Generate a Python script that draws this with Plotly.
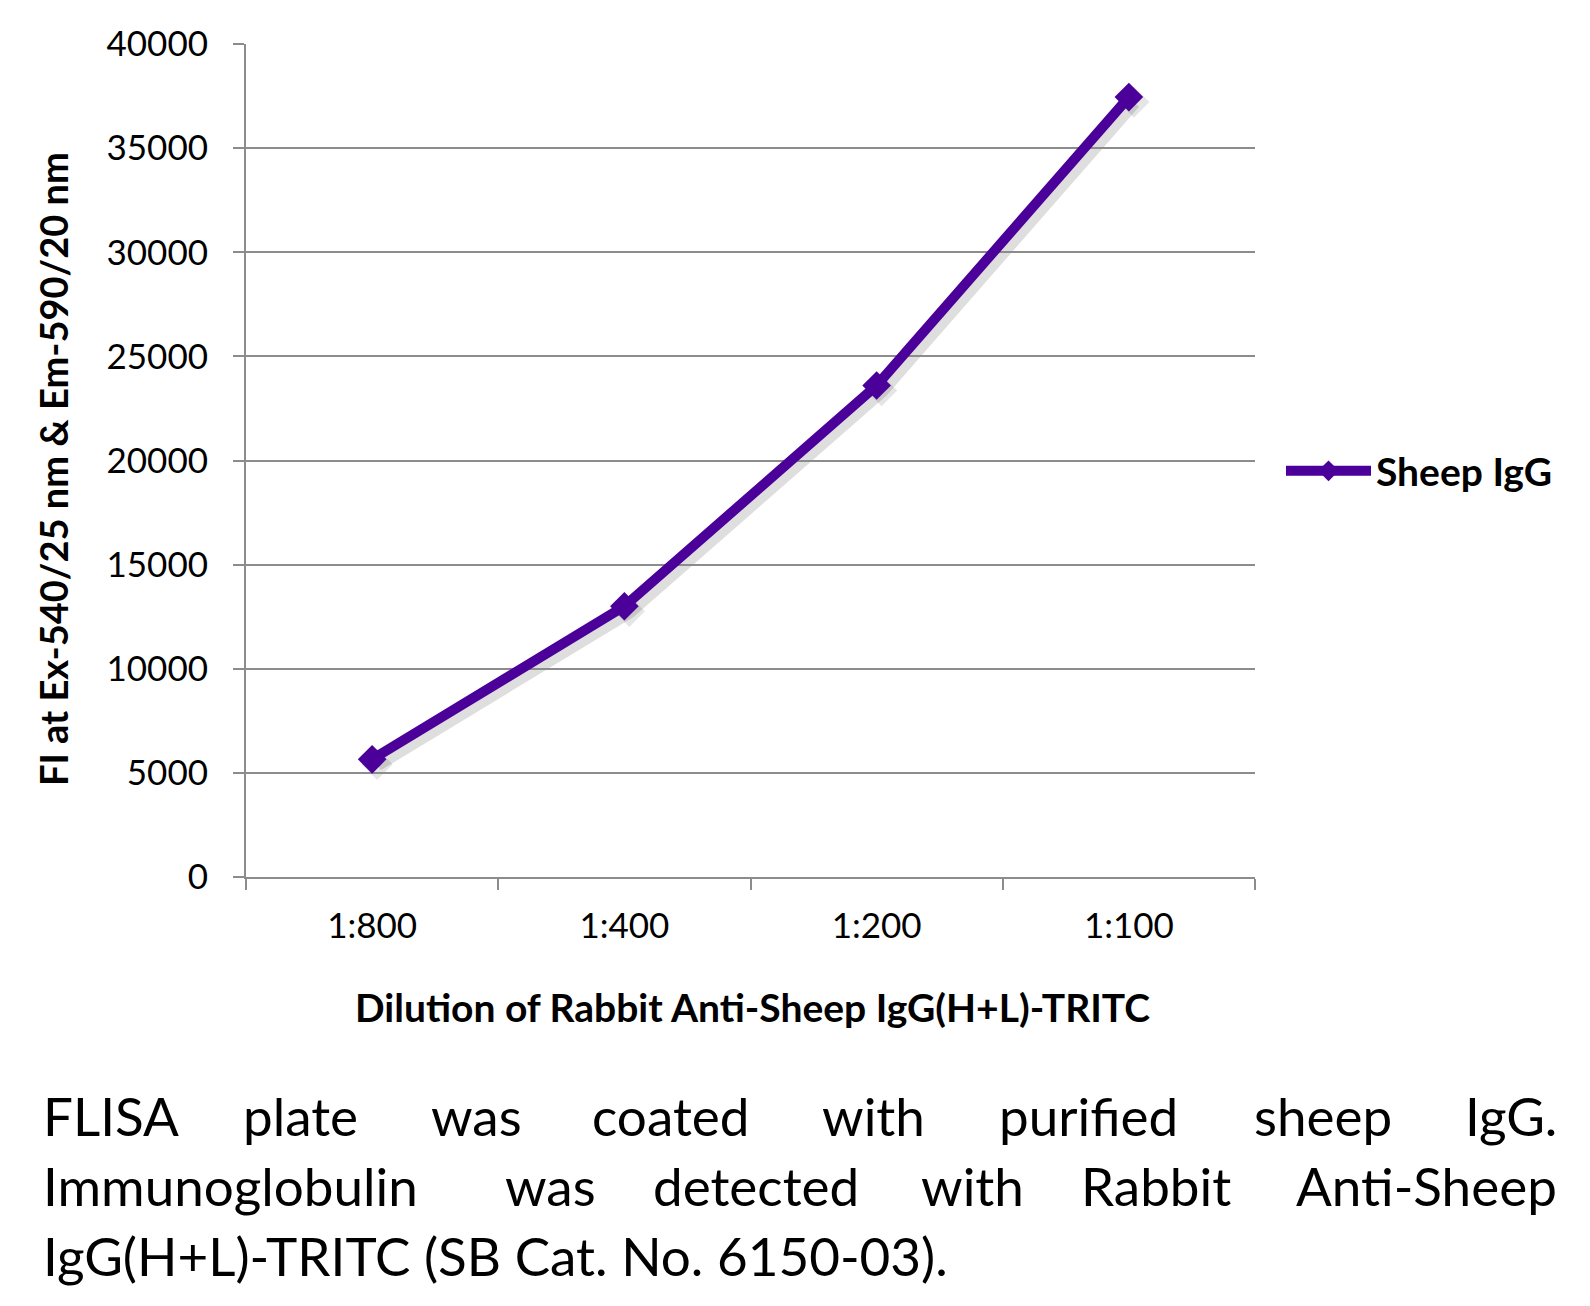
import plotly.graph_objects as go

# ---- data ----
categories = ["1:800", "1:400", "1:200", "1:100"]
sheep_igg = [5650, 13000, 23600, 37450]
series_name = "Sheep IgG"
y_ticks = [0, 5000, 10000, 15000, 20000, 25000, 30000, 35000, 40000]

x_title = "Dilution of Rabbit Anti-Sheep IgG(H+L)-TRITC"
y_title = "FI at Ex-540/25 nm &amp; Em-590/20 nm"
caption_line1 = ["FLISA", "plate", "was", "coated", "with", "purified", "sheep", "IgG."]
caption_line2 = ["Immunoglobulin", "was", "detected", "with", "Rabbit", "Anti-Sheep"]
caption_line3 = "IgG(H+L)-TRITC (SB Cat. No. 6150-03)."

# ---- layout geometry (pixels, in page coordinates) ----
OFF = 8                                  # default body margin of the page
W, H = 1590 - OFF, 1306 - OFF
PL, PR, PT, PB = 246 - OFF, 1255 - OFF, 44 - OFF, 877 - OFF   # main plot area
SH = 5                                   # shadow offset
area_w = PR - PL + SH
area_h = PB - PT + SH

def px(x):
    return (x - OFF - PL) / area_w

def py(y):
    return (PT + area_h - (y - OFF)) / area_h

COLOR = "#4A0099"
FONT = "Lato"
GRID = "#8C8C8C"

fig = go.Figure()

# drop shadow (same data drawn on an offset subplot)
fig.add_trace(go.Scatter(
    x=categories, y=sheep_igg, xaxis="x", yaxis="y",
    mode="lines+markers", showlegend=False, hoverinfo="skip",
    line=dict(color="rgba(0,0,0,0.13)", width=14),
    marker=dict(symbol="diamond", size=24, color="rgba(0,0,0,0.10)"),
))

fig.add_trace(go.Scatter(
    x=categories, y=sheep_igg, xaxis="x2", yaxis="y2",
    name=series_name, mode="lines+markers",
    line=dict(color=COLOR, width=10),
    marker=dict(symbol="diamond", size=22, color=COLOR),
))

dx = SH / area_w
dy = SH / area_h

hidden = dict(visible=False, showgrid=False, zeroline=False)
fig.update_layout(
    width=W, height=H,
    margin=dict(l=PL, r=W - PL - area_w, t=PT, b=H - PT - area_h, pad=0),
    paper_bgcolor="white", plot_bgcolor="rgba(0,0,0,0)",
    font=dict(family=FONT, color="black"),
    xaxis=dict(domain=[dx, 1], anchor="y", type="category", range=[-0.5, 3.5],
               categoryorder="array", categoryarray=categories, **hidden),
    yaxis=dict(domain=[0, 1 - dy], anchor="x", range=[0, 40000], **hidden),
    xaxis2=dict(domain=[0, 1 - dx], anchor="y2", type="category", range=[-0.5, 3.5],
                categoryorder="array", categoryarray=categories,
                tickson="boundaries", ticks="outside", ticklen=11, tickwidth=2,
                tickcolor=GRID, showline=True, linecolor=GRID, linewidth=2,
                showgrid=False, zeroline=False,
                tickfont=dict(family=FONT, size=35, color="black"),
                ticklabelstandoff=17),
    yaxis2=dict(domain=[dy, 1], anchor="x2", range=[0, 40000],
                tickvals=y_ticks, ticktext=[str(v) for v in y_ticks],
                ticks="outside", ticklen=11, tickwidth=2, tickcolor=GRID,
                showline=True, linecolor=GRID, linewidth=2,
                showgrid=True, gridcolor=GRID, gridwidth=2, zeroline=False,
                tickfont=dict(family=FONT, size=35, color="black"),
                ticklabelstandoff=18),
    legend=dict(x=px(1281), y=py(471), xanchor="left", yanchor="middle",
                font=dict(family=FONT, size=39, color="black", weight="bold"),
                itemwidth=85, bgcolor="rgba(0,0,0,0)"),
    showlegend=True,
)

ann = []
# axis titles
ann.append(dict(text=x_title, x=px(752), y=py(1007), xref="paper", yref="paper",
                showarrow=False, xanchor="center", yanchor="middle",
                font=dict(family=FONT, size=39, color="black", weight="bold")))
ann.append(dict(text=y_title, x=px(53), y=py(469), xref="paper", yref="paper",
                showarrow=False, xanchor="center", yanchor="middle", textangle=-90,
                font=dict(family=FONT, size=38, color="black", weight="bold")))

# caption (justified lines placed word by word)
cap_font = dict(family=FONT, size=53, color="black")
left_edge, right_edge = 41, 1559
line1_centers = [300, 476, 670, 873, 1088, 1323]
line2_centers = [550, 756, 972, 1156]
y1, y2, y3 = 1115, 1185, 1255

def justified(words, centers, yline):
    out = [dict(text=words[0], x=px(left_edge), y=py(yline), xanchor="left")]
    for w, c in zip(words[1:-1], centers):
        out.append(dict(text=w, x=px(c), y=py(yline), xanchor="center"))
    out.append(dict(text=words[-1], x=px(right_edge), y=py(yline), xanchor="right"))
    for a in out:
        a.update(xref="paper", yref="paper", showarrow=False, yanchor="middle", font=cap_font)
    return out

ann += justified(caption_line1, line1_centers, y1)
ann += justified(caption_line2, line2_centers, y2)
ann.append(dict(text=caption_line3, x=px(left_edge), y=py(y3), xref="paper", yref="paper",
                showarrow=False, xanchor="left", yanchor="middle", font=cap_font))

fig.update_layout(annotations=ann)
fig.write_html("out.html")
